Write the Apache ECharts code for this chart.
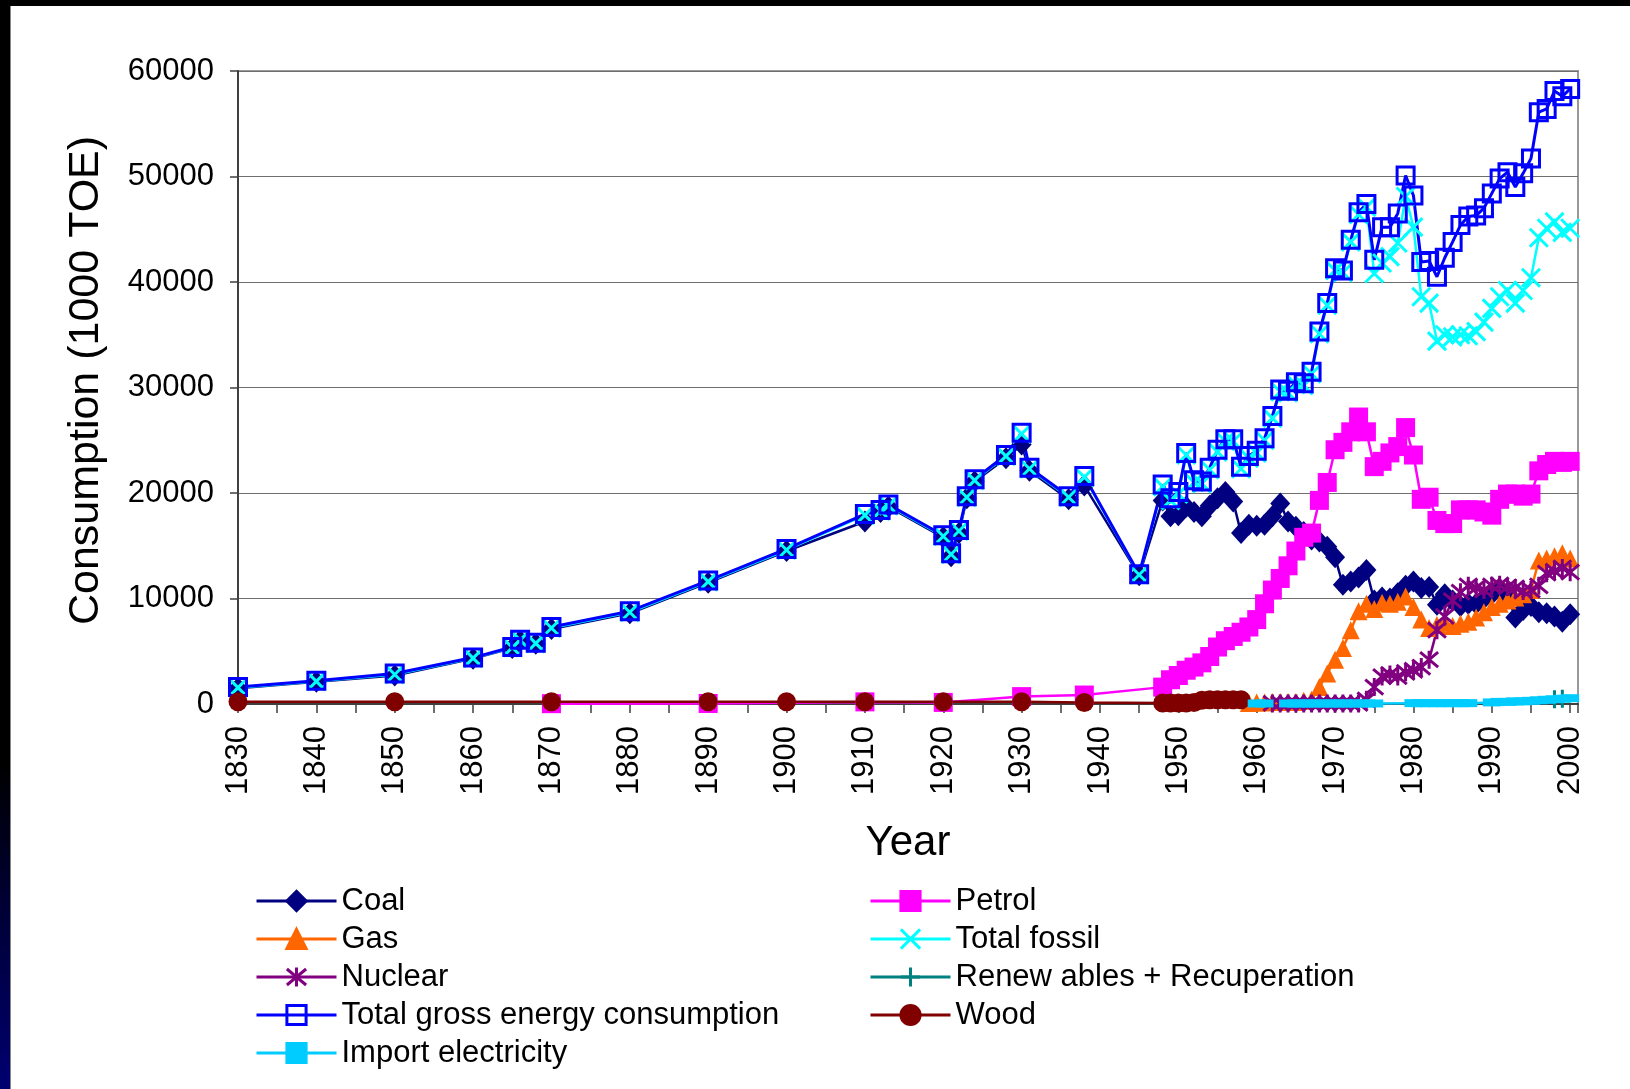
<!DOCTYPE html>
<html>
<head>
<meta charset="utf-8">
<script src="https://cdn.jsdelivr.net/npm/echarts@6/dist/echarts.min.js"></script>
<style>
  html, body { margin: 0; padding: 0; width: 1630px; height: 1089px; overflow: hidden; background: #000; }
  #leftbar { position: absolute; left: 0; top: 0; width: 10px; height: 1089px;
             background: linear-gradient(to bottom, #000 0%, #000 70%, #000030 82%, #000070 100%); }
  #panel { position: absolute; left: 10px; top: 6px; right: 0; bottom: 0; background: #fff;
           border-left: 1px solid #888; }
  #chart { position: absolute; left: 0; top: 0; width: 1630px; height: 1089px; }
</style>
</head>
<body>
<div id="leftbar"></div>
<div id="panel"></div>
<div id="chart"></div>
<script>
// ---------- DATA ----------
const mainYears = [1830,1840,1850,1860,1865,1866,1868,1870,1880,1890,1900,1910,1912,1913,1920,1921,1922,1923,1924,1928,1930,1931,1936,1938,1945,
  1948,1949,1950,1951,1952,1953,1954,1955,1956,1957,1958,1959,1960,1961,1962,1963,1964,1965,1966,1967,1968,1969,1970,1971,1972,1973,1974,
  1975,1976,1977,1978,1979,1980,1981,1982,1983,1984,1985,1986,1987,1988,1989,1990,1991,1992,1993,1994,1995,1996,1997,1998,1999,2000];

const coal = [1500,2100,2700,4300,5300,6000,5700,7100,8600,11500,14500,17300,18200,18700,15800,14000,16200,19500,21100,23300,24600,22100,19400,20700,12200,
  19300,17800,17900,18700,18200,17800,18800,19500,20100,19200,16200,17000,16900,17000,17800,19000,17300,16800,16300,15600,15400,14900,13900,11300,11600,12000,12700,
  9800,10100,10000,10500,11200,11600,11000,11100,9400,10400,9800,9300,9500,9500,10000,10400,10800,10300,8200,8900,9300,8700,8600,8300,7800,8500];

const totalFossil = [1550,2150,2800,4350,5350,6050,5750,7200,8700,11600,14600,17900,18300,18800,15900,14200,16400,19600,21200,23500,25600,22300,19600,21500,12250,
  20600,19300,19900,23600,21000,20900,22200,23900,24900,24900,22300,23300,23800,25000,27100,29600,29500,30300,30200,31300,35100,37800,41100,40900,43800,46400,47100,
  40800,41800,42400,43700,48100,45200,38600,38000,34400,35000,34800,35000,34900,35300,36200,37500,38600,39200,38000,39200,40400,44200,45100,45700,44700,45100];

const totalGross = [1600,2200,2900,4400,5400,6100,5800,7300,8800,11700,14700,18000,18400,18900,16000,14300,16500,19700,21300,23600,25700,22400,19700,21600,12300,
  20800,19500,20100,23800,21200,21100,22400,24100,25100,25100,22500,23500,24000,25200,27300,29800,29700,30500,30400,31500,35300,38000,41300,41100,44000,46600,47400,
  42100,45200,45200,46500,50100,48200,41900,42000,40500,42300,43800,45400,46200,46300,47000,48400,49800,50400,49000,50300,51700,56100,56400,58100,57600,58300];

const petrolYears = [1870,1890,1910,1920,1930,1938,
  1948,1949,1950,1951,1952,1953,1954,1955,1956,1957,1958,1959,1960,1961,1962,1963,1964,1965,1966,1967,1968,1969,1970,1971,1972,1973,1974,
  1975,1976,1977,1978,1979,1980,1981,1982,1983,1984,1985,1986,1987,1988,1989,1990,1991,1992,1993,1994,1995,1996,1997,1998,1999,2000];
const petrol = [30,50,200,150,700,850,
  1600,2300,2700,3200,3500,3900,4500,5400,6000,6400,6800,7300,8000,9500,10800,11900,13100,14500,15800,16200,19300,21000,24100,24800,25800,27200,25800,
  22500,23000,23800,24400,26200,23600,19400,19600,17400,17100,17100,18400,18400,18400,18200,17900,19400,19900,19900,19700,19900,22100,22700,23000,22900,23000];

const gasYears = [1959,1960,1961,1962,1963,1964,1965,1966,1967,1968,1969,1970,1971,1972,1973,1974,
  1975,1976,1977,1978,1979,1980,1981,1982,1983,1984,1985,1986,1987,1988,1989,1990,1991,1992,1993,1994,1995,1996,1997,1998,1999,2000];
const gas = [100,150,150,200,200,200,200,300,400,1600,2900,4200,5300,7000,8800,9500,
  9000,9600,9500,9700,10200,9200,8000,7200,7500,7700,7400,7600,7800,8200,8700,9200,9500,9800,10100,10400,10800,13600,13800,14000,14300,13800];

const nuclearYears = [1962,1963,1964,1965,1966,1967,1968,1969,1970,1971,1972,1973,1974,
  1975,1976,1977,1978,1979,1980,1981,1982,1983,1984,1985,1986,1987,1988,1989,1990,1991,1992,1993,1994,1995,1996,1997,1998,1999,2000];
const nuclear = [50,50,50,50,50,50,50,50,50,50,50,50,400,
  1600,2600,2800,2600,3000,3200,3500,4200,7000,8300,9800,10600,11200,11000,10800,11200,11300,11100,11000,10700,10800,11200,12400,12600,12900,12500];

const renewYears = [1998,1999];
const renewables = [450,500];

const woodYears = [1830,1850,1870,1890,1900,1910,1920,1930,1938,1948,1949,1950,1951,1952,1953,1954,1955,1956,1957,1958];
const wood = [220,220,220,220,220,220,220,220,150,100,100,100,100,150,350,400,400,400,400,400];

const importYears = [1960,1961,1962,1963,1964,1965,1966,1967,1968,1969,1970,1971,1972,1973,1974,1975,1976,1977,1978,1979,
  1980,1981,1982,1983,1984,1985,1986,1987,1988,1989,1990,1991,1992,1993,1994,1995,1996,1997,1998,1999,2000];
const importElec = [50,50,null,null,50,50,50,50,50,50,50,50,50,50,50,50,null,null,null,null,
  80,80,80,80,80,80,80,80,null,null,150,200,200,250,250,300,350,400,450,500,550];

const xTicks = { min: 1830, max: 2001, step: 10 };
const yTicks = { min: 0, max: 60000, step: 10000 };

// ---------- CHART ----------
function pairs(xs, ys) { return xs.map((x, i) => [x, ys[i]]); }

const FONT = 'Liberation Sans, Arial, sans-serif';
const X_PATH = 'path://M0,0L10,10M10,0L0,10';
const AST_PATH = 'path://M0,0L10,10M10,0L0,10M5,-1L5,11';
const PLUS_PATH = 'path://M5,0L5,10M0,5L10,5';

function mk(name, xs, ys, color, symbol, size, extra) {
  const s = {
    name, type: 'line', data: pairs(xs, ys),
    symbol, symbolSize: size, showSymbol: true,
    lineStyle: { color, width: 2.5 },
    itemStyle: { color, borderColor: color, borderWidth: 0 },
    emphasis: { disabled: true },
    connectNulls: false,
    clip: false
  };
  return Object.assign(s, extra || {});
}

const series = [
  mk('Coal', mainYears, coal, '#000080', 'diamond', [20, 22]),
  mk('Petrol', petrolYears, petrol, '#FF00FF', 'rect', 19),
  mk('Gas', gasYears, gas, '#FF6600', 'triangle', 18),
  mk('Total fossil', mainYears, totalFossil, '#00FFFF', X_PATH, 18,
     { itemStyle: { color: '#00FFFF', borderColor: '#00FFFF', borderWidth: 3 } }),
  mk('Nuclear', nuclearYears, nuclear, '#800080', AST_PATH, 18,
     { itemStyle: { color: '#800080', borderColor: '#800080', borderWidth: 3 } }),
  mk('Renew ables + Recuperation', renewYears, renewables, '#008080', PLUS_PATH, 18,
     { itemStyle: { color: '#008080', borderColor: '#008080', borderWidth: 3 } }),
  mk('Total gross energy consumption', mainYears, totalGross, '#0000FF', 'rect', 17,
     { lineStyle: { color: '#0000FF', width: 3 },
       itemStyle: { color: 'rgba(255,255,255,0)', borderColor: '#0000FF', borderWidth: 3 } }),
  mk('Wood', woodYears, wood, '#800000', 'circle', 19),
  mk('Import electricity', importYears, importElec, '#00CCFF', 'rect', [18, 8],
     { connectNulls: true })
];

const legendCommon = {
  orient: 'vertical', top: 883, itemWidth: 80, itemHeight: 24, itemGap: 2,
  textStyle: { fontFamily: FONT, fontSize: 31, color: '#000', lineHeight: 36 },
  lineStyle: { width: 3 },
  itemStyle: { borderWidth: 3 },
  selectedMode: false, padding: 0
};

const option = {
  animation: false,
  backgroundColor: 'transparent',
  grid: { left: 238, right: 52, top: 71, bottom: 385, containLabel: false, outerBoundsMode: 'none',
          show: true, borderColor: '#999', borderWidth: 2, backgroundColor: 'transparent' },
  legend: [
    Object.assign({}, legendCommon, { left: 255,
      data: ['Coal', 'Gas', 'Nuclear', 'Total gross energy consumption', 'Import electricity'] }),
    Object.assign({}, legendCommon, { left: 869,
      data: ['Petrol', 'Total fossil', 'Renew ables + Recuperation', 'Wood'] })
  ],
  xAxis: {
    type: 'value', min: xTicks.min, max: xTicks.max, interval: xTicks.step,
    name: 'Year', nameLocation: 'middle', nameGap: 118,
    nameTextStyle: { fontFamily: FONT, fontSize: 42, color: '#000' },
    axisLine: { show: true, onZero: false, lineStyle: { color: '#404040', width: 2 } },
    axisTick: { show: true, length: 9, lineStyle: { color: '#404040', width: 1.5 } },
    minorTick: { show: true, splitNumber: 2, length: 9, lineStyle: { color: '#404040', width: 1.5 } },
    splitLine: { show: false },
    axisLabel: { rotate: 90, margin: 22, fontFamily: FONT, fontSize: 31, color: '#000',
      showMaxLabel: false,
      formatter: v => (v % xTicks.step === 0 ? String(v) : '') }
  },
  yAxis: {
    type: 'value', min: yTicks.min, max: yTicks.max, interval: yTicks.step,
    name: 'Consumption (1000 TOE)', nameLocation: 'middle', nameGap: 130, nameRotate: 90,
    nameTextStyle: { fontFamily: FONT, fontSize: 43, color: '#000', padding: [0, 0, 0, 14] },
    axisLine: { show: true, lineStyle: { color: '#404040', width: 2 } },
    axisTick: { show: true, length: 8, lineStyle: { color: '#404040', width: 1.5 } },
    splitLine: { show: true, lineStyle: { color: '#6e6e6e', width: 1.2 } },
    axisLabel: { margin: 24, fontFamily: FONT, fontSize: 31, color: '#000',
      formatter: v => String(v) }
  },
  series
};

const chart = echarts.init(document.getElementById('chart'), null, { renderer: 'canvas' });
chart.setOption(option);
</script>
</body>
</html>
